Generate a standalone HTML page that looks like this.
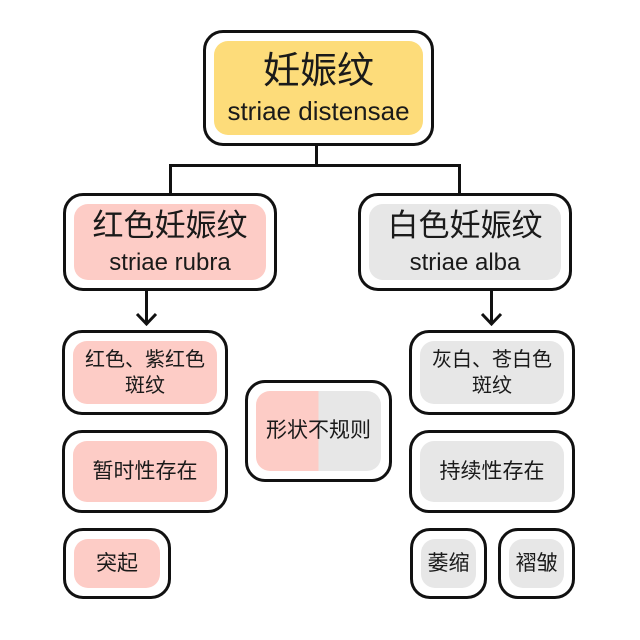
<!DOCTYPE html>
<html><head><meta charset="utf-8"><style>
body{margin:0;width:640px;height:640px;background:#fff;position:relative;overflow:hidden;font-family:"Liberation Sans","Noto Sans CJK SC",sans-serif;color:#1a1a1a}
.b{position:absolute;box-sizing:border-box;border:3.5px solid #111;border-radius:20px;background:#fff;padding:8px}
.i{width:100%;height:100%;border-radius:14px;display:flex;flex-direction:column;align-items:center;justify-content:center;text-align:center;line-height:1.3}
.y{background:#fddc7a}.p{background:#fdccc6}.g{background:#e7e7e7}
.l{position:absolute;background:#111}
</style></head><body>
<div class="l" style="left:315px;top:144px;width:3px;height:22px"></div>
<div class="l" style="left:169px;top:164px;width:292px;height:3px"></div>
<div class="l" style="left:169px;top:164px;width:3px;height:30px"></div>
<div class="l" style="left:458px;top:164px;width:3px;height:30px"></div>
<div class="l" style="left:145px;top:289px;width:3px;height:34px"></div>
<div class="l" style="left:490px;top:289px;width:3px;height:34px"></div>
<svg style="position:absolute;left:0;top:0" width="640" height="640"><polyline points="137,314 146.5,324 156,314" fill="none" stroke="#111" stroke-width="3"/><polyline points="482,314 491.5,324 501,314" fill="none" stroke="#111" stroke-width="3"/></svg>
<div class="b" style="left:203px;top:30px;width:231px;height:116px"><div class="i y"><div style="font-size:37px">妊娠纹</div><div style="font-size:26px">striae distensae</div></div></div>
<div class="b" style="left:63px;top:193px;width:214px;height:98px"><div class="i p"><div style="font-size:31px">红色妊娠纹</div><div style="font-size:24px">striae rubra</div></div></div>
<div class="b" style="left:358px;top:193px;width:214px;height:98px"><div class="i g"><div style="font-size:31px">白色妊娠纹</div><div style="font-size:24px">striae alba</div></div></div>
<div class="b" style="left:62px;top:330px;width:166px;height:85px"><div class="i p" style="font-size:20px">红色、紫红色<br>斑纹</div></div>
<div class="b" style="left:62px;top:430px;width:166px;height:83px"><div class="i p" style="font-size:21px">暂时性存在</div></div>
<div class="b" style="left:63px;top:528px;width:108px;height:71px"><div class="i p" style="font-size:21px">突起</div></div>
<div class="b" style="left:245px;top:380px;width:147px;height:102px"><div class="i" style="background:linear-gradient(90deg,#fdccc6 50%,#e7e7e7 50%);font-size:21px">形状不规则</div></div>
<div class="b" style="left:409px;top:330px;width:166px;height:85px"><div class="i g" style="font-size:20px">灰白、苍白色<br>斑纹</div></div>
<div class="b" style="left:409px;top:430px;width:166px;height:83px"><div class="i g" style="font-size:21px">持续性存在</div></div>
<div class="b" style="left:410px;top:528px;width:77px;height:71px"><div class="i g" style="font-size:21px">萎缩</div></div>
<div class="b" style="left:498px;top:528px;width:77px;height:71px"><div class="i g" style="font-size:21px">褶皱</div></div>
</body></html>
